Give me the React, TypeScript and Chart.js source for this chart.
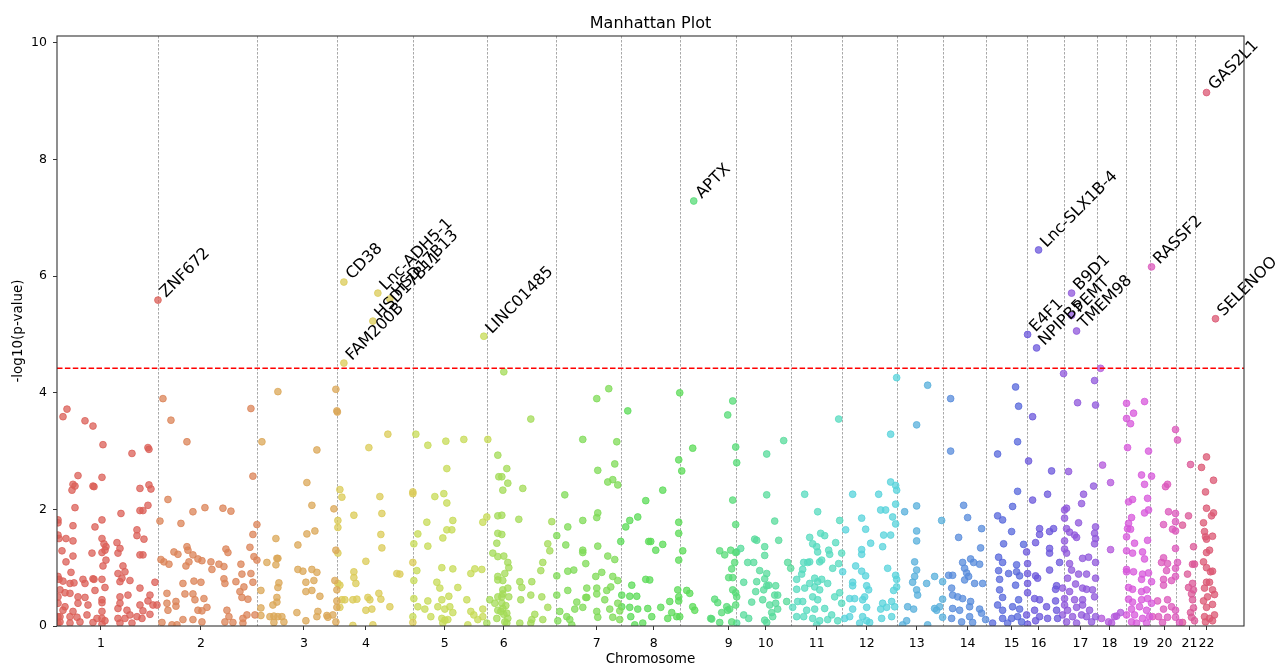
import React, { useEffect, useRef } from 'react';
import { Chart, registerables } from 'chart.js';

Chart.register(...registerables);

// Cumulative genomic position (arbitrary units) and -log10(p) per chromosome
const chr1 = [[10,3.72],[6,3.59],[28,3.52],[36,3.43],[46,3.11],[75,2.96],[91,3.06],[92,3.03],[21,2.58],[45,2.55],[16,2.43],[18,2.40],[15,2.33],[36,2.40],[37,2.39],[83,2.36],[92,2.42],[94,2.35],[18,2.03],[91,2.07],[45,1.82],[64,1.93],[83,1.98],[86,1.98],[1,1.82],[1,1.77],[16,1.72],[38,1.70],[80,1.65],[80,1.55],[87,1.49],[1,1.56],[2,1.50],[9,1.50],[16,1.46],[45,1.50],[47,1.41],[48,1.30],[45,1.26],[49,1.36],[60,1.43],[63,1.33],[61,1.25],[35,1.25],[83,1.22],[86,1.22],[5,1.29],[16,1.20],[9,1.10],[46,1.03],[49,1.13],[66,1.03],[14,0.92],[61,0.90],[68,0.93],[65,0.82],[63,0.76],[73,0.78],[98,0.75],[1,0.85],[2,0.80],[6,0.77],[13,0.73],[17,0.74],[26,0.80],[28,0.73],[36,0.81],[37,0.80],[45,0.80],[48,0.66],[38,0.61],[3,0.62],[8,0.57],[1,0.50],[13,0.56],[21,0.50],[28,0.49],[45,0.45],[45,0.40],[63,0.50],[71,0.53],[83,0.65],[93,0.53],[96,0.36],[91,0.43],[1,0.39],[8,0.33],[21,0.39],[31,0.36],[63,0.39],[70,0.27],[83,0.36],[100,0.36],[6,0.27],[16,0.25],[45,0.25],[61,0.30],[73,0.19],[86,0.26],[93,0.20],[1,0.16],[3,0.16],[13,0.16],[20,0.15],[30,0.19],[40,0.13],[45,0.13],[48,0.09],[61,0.13],[68,0.13],[80,0.16],[85,0.13],[3,0.07],[13,0.05],[23,0.07],[36,0.06],[45,0.03],[63,0.05],[75,0.05],[1,0.05]];
const chr2 = [[106,3.90],[114,3.53],[130,3.16],[111,2.17],[136,1.96],[103,1.80],[124,1.76],[104,1.14],[107,1.10],[112,1.06],[117,1.27],[121,1.23],[130,1.36],[131,1.30],[129,1.03],[132,1.10],[136,1.22],[141,1.15],[126,0.73],[137,0.77],[110,0.56],[119,0.42],[128,0.55],[136,0.55],[138,0.45],[110,0.39],[111,0.27],[119,0.34],[141,0.27],[105,0.06],[115,0.02],[120,0.02],[126,0.11],[136,0.11],[194,3.73],[196,2.57],[148,2.03],[166,2.02],[174,1.97],[200,1.74],[196,1.57],[169,1.32],[171,1.26],[193,1.35],[197,1.19],[200,1.13],[145,1.12],[154,1.10],[162,1.06],[167,1.02],[184,1.06],[155,0.97],[194,0.90],[185,0.89],[167,0.81],[168,0.73],[179,0.76],[196,0.75],[144,0.75],[187,0.67],[183,0.59],[185,0.49],[191,0.46],[147,0.47],[150,0.32],[145,0.26],[170,0.27],[172,0.16],[168,0.07],[176,0.06],[186,0.13],[190,0.19],[198,0.19],[186,0.05],[145,0.07]];
const chr3 = [[221,4.02],[205,3.16],[260,3.02],[250,2.46],[255,2.07],[250,1.58],[258,1.63],[241,1.39],[219,1.50],[220,1.16],[221,1.16],[219,1.05],[210,1.09],[241,0.97],[246,0.94],[255,0.97],[260,0.92],[222,0.74],[221,0.66],[249,0.75],[257,0.78],[249,0.59],[255,0.61],[263,0.51],[204,0.61],[220,0.49],[220,0.41],[216,0.36],[204,0.31],[204,0.18],[213,0.16],[217,0.17],[221,0.16],[225,0.16],[217,0.06],[227,0.07],[240,0.23],[249,0.09],[261,0.25],[260,0.16],[270,0.18],[271,0.15],[276,0.19],[279,4.06],[280,3.69],[280.5,3.67],[277,2.01],[279,1.30],[278,0.78],[280,0.62],[280,0.43],[280,0.32],[279,0.07]];
const chr4 = [[283,2.34],[285,2.21],[281,1.81],[281,1.69],[281,1.25],[281,0.73],[283,0.70],[285,0.45],[288,0.45],[283,0.32],[331,3.29],[312,3.06],[323,2.22],[297,1.90],[325,1.93],[324,1.57],[325,1.34],[309,1.11],[297,0.93],[297,0.83],[299,0.73],[340,0.90],[343,0.89],[322,0.56],[324,0.46],[311,0.49],[313,0.45],[296,0.45],[300,0.46],[309,0.27],[315,0.29],[333,0.33],[316,0.02],[296,0.01],[356,2.30],[356,2.27],[356,1.09],[356,0.06]];
const chr5 = [[359,3.29],[371,3.10],[389,3.17],[407,3.20],[431,3.20],[390,2.70],[378,2.22],[387,2.27],[390,2.11],[370,1.78],[396,1.81],[390,1.65],[395,1.65],[361,1.58],[386,1.51],[357,1.41],[371,1.37],[430,1.87],[426,1.78],[385,1.00],[396,0.98],[360,0.95],[357,0.78],[380,0.75],[383,0.65],[401,0.66],[414,0.90],[418,0.98],[425,0.97],[410,0.45],[392,0.51],[385,0.45],[371,0.43],[357,0.47],[361,0.33],[368,0.29],[381,0.33],[388,0.29],[393,0.33],[396,0.23],[374,0.16],[385,0.13],[388,0.10],[391,0.11],[414,0.25],[417,0.19],[421,0.11],[426,0.16],[426,0.29],[356,0.16],[411,0.02],[386,0.05]];
const chr6 = [[447,4.36],[441,2.93],[442,2.56],[441,1.89],[441,1.59],[440,1.42],[436,1.25],[441,1.19],[441,0.85],[441,0.79],[433,0.45],[438,0.39],[441,0.50],[441,0.27],[440,0.13],[430,0.05],[474,3.55],[450,2.70],[445,2.56],[451,2.45],[446,2.33],[466,2.36],[445,1.90],[462,1.83],[495,1.79],[445,1.57],[491,1.41],[493,1.29],[451,1.09],[486,1.09],[484,0.95],[475,0.76],[463,0.76],[465,0.66],[446,0.78],[446,0.62],[445,0.50],[474,0.53],[485,0.50],[464,0.45],[445,0.39],[446,0.30],[450,0.22],[491,0.32],[478,0.20],[486,0.11],[475,0.11],[474,0.05],[463,0.05],[451,0.13],[448,0.07],[447,0.20],[449,0.35],[446,0.55],[451,0.65],[448,0.90],[452,1.00],[447,1.20],[450,0.05],[444,0.25],[452,0.50]];
const chr7 = [[552,4.07],[540,3.90],[526,3.20],[560,3.16],[541,2.67],[558,2.78],[551,2.47],[556,2.51],[561,2.42],[508,2.25],[541,1.94],[540,1.86],[526,1.81],[511,1.70],[500,1.55],[509,1.39],[541,1.37],[526,1.30],[526,1.26],[551,1.20],[558,1.14],[529,1.07],[511,0.94],[517,0.96],[545,0.92],[539,0.85],[556,0.85],[561,0.78],[554,0.67],[540,0.65],[511,0.61],[530,0.65],[540,0.55],[550,0.61],[500,0.86],[500,0.53],[529,0.49],[530,0.49],[520,0.41],[518,0.29],[526,0.32],[548,0.45],[553,0.29],[561,0.39],[540,0.25],[503,0.25],[510,0.16],[513,0.11],[501,0.09],[541,0.15],[556,0.15],[563,0.26],[563,0.11],[515,0.02]];
const chr8 = [[571,3.69],[589,2.15],[581,1.87],[573,1.81],[569,1.70],[592,1.45],[564,1.45],[589,0.80],[575,0.70],[565,0.53],[573,0.51],[580,0.51],[573,0.32],[581,0.29],[565,0.33],[574,0.16],[578,0.02],[586,0.05],[591,0.30],[623,4.00],[636,3.05],[622,2.85],[625,2.66],[606,2.33],[622,1.78],[622,1.59],[626,1.29],[622,1.13],[594,1.45],[599,1.30],[606,1.40],[593,0.79],[621,0.62],[622,0.50],[622,0.43],[630,0.61],[633,0.56],[613,0.42],[604,0.32],[636,0.33],[638,0.27],[615,0.23],[620,0.16],[623,0.16],[611,0.13],[595,0.16]];
const chr9 = [[654,0.13],[676,3.86],[671,3.62],[679,3.07],[680,2.80],[676,2.16],[679,1.74],[663,1.29],[668,1.22],[674,1.30],[679,1.26],[678,1.09],[675,0.98],[672,0.83],[676,0.83],[676,0.62],[679,0.57],[680,0.50],[658,0.46],[661,0.40],[670,0.33],[673,0.29],[665,0.23],[679,0.36],[671,0.27],[655,0.12],[663,0.06],[675,0.07]];
const chr10 = [[727,3.18],[710,2.95],[710,2.25],[718,1.80],[722,1.47],[684,1.33],[680,1.27],[698,1.49],[700,1.47],[708,1.36],[708,1.21],[691,1.09],[697,1.09],[703,0.95],[710,0.90],[687,0.75],[700,0.76],[708,0.81],[710,0.69],[712,0.70],[719,0.69],[699,0.59],[707,0.62],[718,0.53],[721,0.53],[695,0.41],[706,0.45],[713,0.36],[719,0.39],[721,0.29],[715,0.23],[716,0.16],[687,0.19],[692,0.13],[708,0.10],[710,0.06],[680,0.05],[731,1.09],[734,0.99],[730,0.42]];
const chr11 = [[740,0.80],[740,0.63],[741,0.42],[736,0.32],[740,0.16],[782,3.55],[748,2.26],[761,1.96],[783,1.81],[753,1.52],[764,1.59],[768,1.55],[756,1.41],[760,1.36],[761,1.27],[779,1.43],[772,1.30],[773,1.23],[785,1.25],[765,1.13],[763,1.10],[747,1.09],[751,1.09],[753,1.10],[746,0.97],[782,1.07],[776,0.99],[745,0.89],[758,0.82],[761,0.76],[765,0.80],[753,0.73],[758,0.67],[763,0.62],[748,0.65],[771,0.73],[756,0.50],[761,0.45],[778,0.50],[783,0.57],[785,0.39],[746,0.42],[750,0.27],[758,0.29],[768,0.30],[775,0.19],[747,0.16],[756,0.13],[763,0.09],[771,0.11],[781,0.09],[760,0.02]];
const chr12 = [[840,4.26],[834,3.29],[834,2.47],[839,2.41],[840,2.33],[796,2.26],[822,2.26],[839,2.09],[824,1.99],[829,1.99],[805,1.85],[836,1.87],[839,1.75],[789,1.65],[809,1.66],[827,1.56],[834,1.56],[814,1.42],[826,1.36],[805,1.31],[805,1.23],[799,1.03],[786,0.93],[805,0.94],[809,0.86],[831,0.99],[839,0.87],[840,0.80],[796,0.75],[796,0.69],[810,0.69],[812,0.62],[840,0.67],[837,0.61],[793,0.47],[798,0.47],[808,0.50],[806,0.45],[826,0.39],[835,0.42],[830,0.32],[824,0.29],[796,0.29],[810,0.32],[838,0.33],[788,0.13],[793,0.16],[806,0.16],[810,0.09],[813,0.06],[825,0.13],[835,0.16],[803,0.05]];
const chr13 = [[871,4.13],[860,3.45],[860,2.06],[848,1.96],[860,1.63],[860,1.46],[858,1.10],[860,0.96],[858,0.85],[856,0.75],[870,0.73],[878,0.85],[886,0.76],[860,0.62],[861,0.53],[851,0.33],[857,0.29],[878,0.30],[880,0.27],[883,0.33],[886,0.46],[886,0.15],[850,0.09],[846,0.02],[871,0.02],[885,1.81]];
const chr14 = [[894,3.90],[894,3.00],[907,2.07],[911,1.86],[925,1.67],[924,1.34],[902,1.52],[906,1.09],[914,1.15],[917,1.09],[923,1.06],[908,0.99],[910,0.91],[912,0.85],[908,0.79],[918,0.73],[926,0.73],[896,0.87],[895,0.65],[896,0.53],[901,0.50],[906,0.47],[914,0.42],[913,0.33],[896,0.30],[903,0.27],[923,0.29],[925,0.22],[913,0.16],[916,0.06],[895,0.13],[905,0.07],[929,0.11],[892,0.87]];
const chr15 = [[959,4.10],[962,3.77],[961,3.16],[941,2.95],[961,2.31],[956,2.05],[941,1.89],[946,1.82],[955,1.62],[947,1.41],[967,1.40],[942,1.18],[946,1.09],[960,1.05],[952,0.90],[942,0.95],[960,0.93],[963,0.86],[943,0.80],[959,0.70],[943,0.62],[946,0.49],[962,0.45],[941,0.36],[956,0.33],[963,0.29],[946,0.27],[946,0.13],[955,0.13],[961,0.16],[965,0.07],[951,0.05],[936,0.05]];
const chr16 = [[976,3.59],[972,2.83],[995,2.66],[991,2.26],[976,2.16],[983,1.67],[983,1.57],[993,1.62],[997,1.67],[979,1.43],[970,1.27],[993,1.33],[993,1.25],[971,1.07],[971,0.90],[979,0.86],[981,0.82],[993,0.96],[1003,1.09],[971,0.73],[971,0.57],[978,0.47],[1000,0.69],[999,0.63],[983,0.45],[990,0.33],[999,0.43],[970,0.19],[978,0.27],[983,0.16],[991,0.13],[1000,0.27],[1001,0.13],[979,0.09],[971,0.03]];
const chr17 = [[1007,4.33],[1038,4.21],[1039,3.79],[1021,3.83],[1012,2.65],[1037,2.40],[1027,2.26],[1025,2.10],[1010,2.02],[1008,1.99],[1008,1.85],[1022,1.77],[1010,1.67],[1013,1.61],[1018,1.56],[1039,1.70],[1038,1.59],[1039,1.50],[1008,1.46],[1038,1.41],[1008,1.32],[1010,1.25],[1020,1.52],[1026,1.16],[1032,1.18],[1013,1.07],[1015,0.96],[1022,0.89],[1030,0.89],[1039,1.09],[1039,0.82],[1011,0.82],[1019,0.72],[1026,0.65],[1030,0.63],[1036,0.62],[1006,0.65],[1013,0.59],[1008,0.47],[1018,0.45],[1026,0.45],[1038,0.50],[1008,0.36],[1011,0.27],[1020,0.32],[1026,0.36],[1033,0.27],[1006,0.19],[1016,0.16],[1025,0.19],[1030,0.16],[1039,0.16],[1010,0.07],[1020,0.05],[1035,0.07]];
const chr18 = [[1044,4.42],[1046,2.76],[1054,2.46],[1054,1.31],[1064,0.23],[1058,0.16],[1052,0.07],[1045,0.13],[1060,0.17],[1055,0.05]];
const chr19 = [[1070,3.82],[1088,3.85],[1077,3.65],[1070,3.56],[1074,3.47],[1071,3.06],[1092,3.00],[1085,2.59],[1088,2.43],[1095,2.57],[1072,2.13],[1076,2.17],[1091,2.19],[1088,1.94],[1092,1.99],[1075,1.86],[1072,1.76],[1071,1.67],[1074,1.66],[1070,1.53],[1078,1.42],[1091,1.47],[1070,1.29],[1076,1.25],[1086,1.27],[1088,1.15],[1070,0.97],[1070,0.93],[1077,0.93],[1086,0.89],[1092,0.91],[1085,0.80],[1095,0.76],[1072,0.66],[1076,0.63],[1085,0.59],[1090,0.62],[1072,0.46],[1076,0.41],[1085,0.45],[1091,0.47],[1095,0.39],[1075,0.29],[1083,0.33],[1090,0.27],[1070,0.19],[1078,0.19],[1086,0.13],[1093,0.16],[1075,0.07],[1090,0.05],[1080,0.05]];
const chr20 = [[1119,3.37],[1121,3.19],[1109,2.39],[1111,2.43],[1112,1.96],[1119,1.93],[1119,1.79],[1107,1.74],[1116,1.66],[1119,1.63],[1119,1.33],[1107,1.17],[1105,1.09],[1111,1.07],[1110,0.95],[1121,1.09],[1119,0.99],[1119,0.85],[1107,0.80],[1115,0.78],[1107,0.70],[1101,0.43],[1111,0.45],[1115,0.33],[1107,0.29],[1102,0.16],[1111,0.15],[1119,0.27],[1119,0.15],[1096,0.16],[1106,0.06],[1123,0.06]];
const chr21 = [[1134,2.77],[1132,1.89],[1137,1.36],[1136,1.06],[1138,1.06],[1131,0.89],[1136,0.73],[1132,0.66],[1137,0.62],[1135,0.55],[1136,0.45],[1137,0.31],[1134,0.23],[1135,0.15],[1126,0.06],[1138,0.09],[1126,1.73]];
const chr22 = [[1150,2.90],[1145,2.72],[1157,2.50],[1149,2.30],[1150,2.02],[1157,1.94],[1155,1.89],[1147,1.77],[1148,1.62],[1149,1.53],[1156,1.54],[1150,1.49],[1153,1.30],[1150,1.26],[1147,1.10],[1150,1.00],[1154,0.93],[1156,0.94],[1150,0.75],[1153,0.75],[1156,0.62],[1148,0.65],[1151,0.50],[1158,0.54],[1147,0.43],[1150,0.32],[1156,0.37],[1158,0.19],[1148,0.16],[1153,0.13],[1149,0.07],[1156,0.09]];

const chromosomes = [chr1, chr2, chr3, chr4, chr5, chr6, chr7, chr8, chr9, chr10, chr11, chr12, chr13, chr14, chr15, chr16, chr17, chr18, chr19, chr20, chr21, chr22];

// Significant, annotated hits
const hitGenes = ['ZNF672', 'CD38', 'FAM200B', 'Lnc-ADH5-1', 'HSD17B13', 'HSD17B11', 'LINC01485', 'APTX', 'E4F1', 'NPIPB5', 'Lnc-SLX1B-4', 'B9D1', 'PEMT', 'TMEM98', 'RASSF2', 'GAS2L1', 'SELENOO'];
const hitChrom = [1, 4, 4, 4, 4, 4, 5, 9, 16, 16, 16, 17, 17, 17, 20, 22, 22];
const hitPos = [101, 287, 287, 321, 333, 316, 427, 637, 971, 980, 982, 1015, 1015, 1020, 1095, 1150, 1159];
const hitLogP = [5.59, 5.90, 4.51, 5.71, 5.61, 5.23, 4.97, 7.29, 5.00, 4.77, 6.45, 5.71, 5.33, 5.06, 6.16, 9.15, 5.27];

// Axis layout values
const tickPositions = [44, 144, 247, 309, 388, 447, 540, 597, 672, 709, 760, 810, 860, 911, 955, 982, 1024, 1053, 1084, 1108, 1133, 1150];
const tickLabels = ['1', '2', '3', '4', '5', '6', '7', '8', '9', '10', '11', '12', '13', '14', '15', '16', '17', '18', '19', '20', '21', '22'];
const chromBoundaries = [101, 200, 280, 356, 430, 499, 564, 623, 679, 734, 785, 840, 886, 929, 970, 1007, 1040, 1069, 1093, 1119, 1138];
const yTicks = [0, 2, 4, 6, 8, 10];
const xMax = 1187.5;
const yMax = 10.12;
const threshold = 4.42;

const FONT = '"DejaVu Sans", sans-serif';

function chromColor(i: number, a: number) {
  const hue = ((i / 22 + 0.01) % 1) * 360;
  return `hsla(${hue.toFixed(2)}, 65%, 60%, ${a})`;
}

export default function App() {
  const ref = useRef<HTMLCanvasElement>(null);

  useEffect(() => {
    if (!ref.current) return;
    const datasets = chromosomes.map((pts, i) => {
      const data = pts.map(([x, y]) => ({ x, y }));
      hitChrom.forEach((c, k) => {
        if (c === i + 1) data.push({ x: hitPos[k], y: hitLogP[k] });
      });
      return {
        label: `chr${i + 1}`,
        data,
        backgroundColor: chromColor(i, 0.75),
        borderColor: chromColor(i, 0.75),
        borderWidth: 1,
        pointRadius: 3.4,
        pointHoverRadius: 3.4,
      };
    });

    const decor = {
      id: 'manhattanDecor',
      beforeDatasetsDraw(chart: any) {
        const { ctx, chartArea: a, scales } = chart;
        const x = scales.x;
        ctx.save();
        ctx.strokeStyle = 'rgba(128,128,128,0.85)';
        ctx.lineWidth = 0.8;
        ctx.setLineDash([2.5, 1.5]);
        for (const b of chromBoundaries) {
          const px = Math.round(x.getPixelForValue(b)) + 0.5;
          ctx.beginPath();
          ctx.moveTo(px, a.top);
          ctx.lineTo(px, a.bottom);
          ctx.stroke();
        }
        ctx.restore();
      },
      afterDatasetsDraw(chart: any) {
        const { ctx, chartArea: a, scales } = chart;
        const x = scales.x, y = scales.y;
        ctx.save();
        ctx.strokeStyle = '#ff0000';
        ctx.lineWidth = 1.4;
        ctx.setLineDash([5.5, 2.4]);
        const ty = y.getPixelForValue(threshold);
        ctx.beginPath();
        ctx.moveTo(a.left, ty);
        ctx.lineTo(a.right, ty);
        ctx.stroke();
        ctx.restore();

        ctx.save();
        ctx.fillStyle = '#000';
        ctx.font = `16px ${FONT}`;
        ctx.textAlign = 'left';
        ctx.textBaseline = 'alphabetic';
        hitGenes.forEach((g, k) => {
          const px = x.getPixelForValue(hitPos[k]);
          const py = y.getPixelForValue(hitLogP[k]);
          ctx.save();
          ctx.translate(px + 8, py - 2);
          ctx.rotate(-Math.PI / 4);
          ctx.fillText(g, 0, 0);
          ctx.restore();
        });
        ctx.restore();
      },
      afterDraw(chart: any) {
        const { ctx, chartArea: a } = chart;
        ctx.save();
        ctx.strokeStyle = '#333';
        ctx.lineWidth = 1.1;
        ctx.setLineDash([]);
        ctx.strokeRect(a.left, a.top, a.right - a.left, a.bottom - a.top);
        ctx.fillStyle = '#000';
        ctx.font = `16px ${FONT}`;
        ctx.textAlign = 'center';
        ctx.textBaseline = 'alphabetic';
        ctx.fillText('Manhattan Plot', (a.left + a.right) / 2, 28);
        ctx.restore();
      },
    };

    const chart = new Chart(ref.current, {
      type: 'scatter',
      data: { datasets },
      options: {
        animation: false,
        responsive: false,
        devicePixelRatio: 1,
        layout: { padding: { left: 0, right: 32, top: 36, bottom: 0 } },
        plugins: {
          legend: { display: false },
          title: { display: false },
          tooltip: { enabled: false },
        },
        scales: {
          x: {
            type: 'linear',
            min: 0,
            max: xMax,
            afterBuildTicks: (s: any) => {
              s.ticks = tickPositions.map((v) => ({ value: v }));
            },
            afterFit: (s: any) => {
              s.height = 42;
            },
            ticks: {
              autoSkip: false,
              maxRotation: 0,
              minRotation: 0,
              padding: 6,
              color: '#000',
              font: { family: FONT, size: 12.5 },
              callback: (_v: any, i: number) => tickLabels[i],
            },
            grid: { drawOnChartArea: false, drawTicks: true, tickLength: 4, color: '#000', lineWidth: 0.8 },
            border: { display: false },
            title: {
              display: true,
              text: 'Chromosome',
              color: '#000',
              font: { family: FONT, size: 13.5 },
              padding: { top: 0, bottom: 0 },
            },
          },
          y: {
            type: 'linear',
            min: 0,
            max: yMax,
            afterBuildTicks: (s: any) => {
              s.ticks = yTicks.map((v) => ({ value: v }));
            },
            afterFit: (s: any) => {
              s.width = 57;
            },
            ticks: {
              padding: 6,
              color: '#000',
              font: { family: FONT, size: 12.5 },
              callback: (v: any) => String(v),
            },
            grid: { drawOnChartArea: false, drawTicks: true, tickLength: 4, color: '#000', lineWidth: 0.8 },
            border: { display: false },
            title: {
              display: true,
              text: '-log10(p-value)',
              color: '#000',
              font: { family: FONT, size: 13.5 },
              padding: { top: 10, bottom: 0 },
            },
          },
        },
      },
      plugins: [decor],
    } as any);

    return () => chart.destroy();
  }, []);

  return (
    <div style={{ position: 'fixed', left: 0, top: 0, width: 1276, height: 668, background: '#fff' }}>
      <canvas ref={ref} width={1276} height={668} style={{ display: 'block' }} />
    </div>
  );
}
